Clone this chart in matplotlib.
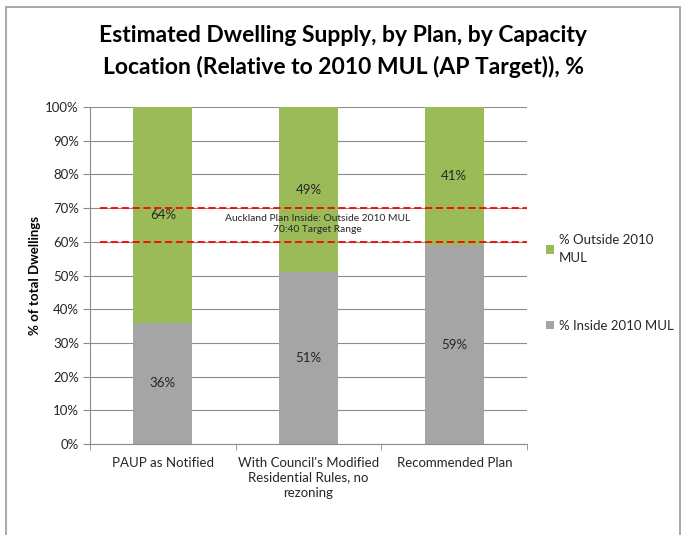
import matplotlib.pyplot as plt
from matplotlib.patches import Rectangle
from matplotlib.ticker import FuncFormatter, MultipleLocator

plans = ["PAUP as Notified",
         "With Council's Modified\nResidential Rules, no\nrezoning",
         "Recommended Plan"]
inside = [36, 51, 59]
outside = [64, 49, 41]
target_lo, target_hi = 60, 70

green = '#9BBB59'
grey = '#A5A5A5'
txt = '#262626'

plt.rcParams['font.family'] = ['Lato', 'DejaVu Sans']

fig = plt.figure(figsize=(6.82, 5.35), dpi=100)
ax = fig.add_axes([0.132, 0.170, 0.641, 0.630])

# chart frame
fig.patches.append(Rectangle((6 / 682, -0.01), 674 / 682, 1 - 7 / 535 + 0.01,
                             transform=fig.transFigure, fill=False,
                             edgecolor='#9a9a9a', lw=1.2, zorder=0))

x = range(len(plans))
w = 0.405
b1 = ax.bar(x, inside, w, color=grey, label='% Inside 2010 MUL', zorder=2)
b2 = ax.bar(x, outside, w, bottom=inside, color=green,
            label='% Outside 2010\nMUL', zorder=2)

for i in x:
    ax.text(i, inside[i] / 2, '%d%%' % inside[i], ha='center', va='center',
            fontsize=9.5, color=txt, zorder=4)
    ax.text(i, inside[i] + outside[i] / 2, '%d%%' % outside[i], ha='center',
            va='center', fontsize=9.5, color=txt, zorder=4)

# target range lines
for v in (target_lo, target_hi):
    ax.plot([-0.43, 2.5], [v, v], color='#FF0000', lw=1.3, ls=(0, (4, 2)),
            zorder=3, clip_on=False)
ax.text(1.06, 65.2, 'Auckland Plan Inside: Outside 2010 MUL\n70:40 Target Range',
        ha='center', va='center', fontsize=7.4, color=txt, zorder=4,
        linespacing=1.25)

ax.set_xlim(-0.5, 2.5)
ax.set_ylim(0, 100)
ax.yaxis.set_major_locator(MultipleLocator(10))
ax.yaxis.set_major_formatter(FuncFormatter(lambda v, p: '%d%%' % v))
ax.grid(axis='y', color='#8c8c8c', lw=0.8, zorder=0)
ax.set_axisbelow(True)

ax.set_xticks(list(x))
ax.set_xticklabels(plans, fontsize=9.5, color=txt, va='top', linespacing=1.3)
ax.set_xticks([-0.5, 0.5, 1.5, 2.5], minor=True)
ax.tick_params(axis='x', which='major', length=0, pad=9)
ax.tick_params(axis='x', which='minor', length=4, color='#8c8c8c')
ax.tick_params(axis='y', length=5, color='#8c8c8c', labelsize=9.5,
               labelcolor=txt, pad=3)

for s in ('top', 'right'):
    ax.spines[s].set_visible(False)
ax.spines['left'].set_color('#8c8c8c')
ax.spines['bottom'].set_color('#8c8c8c')

ax.set_ylabel('% of total Dwellings', fontsize=9.5, fontweight='bold',
              color='black', labelpad=3)

fig.text(0.503, 0.904,
         'Estimated Dwelling Supply, by Plan, by Capacity\n'
         'Location (Relative to 2010 MUL (AP Target)), %',
         ha='center', va='center', fontsize=16.5, fontweight='bold',
         color='black', linespacing=1.55)

leg = ax.legend(handles=[b2, b1], loc='center left',
                bbox_to_anchor=(1.015, 0.478), frameon=False, fontsize=9.5,
                handlelength=0.6, handleheight=0.6, handletextpad=0.4,
                labelspacing=4.2, labelcolor=txt)
for t in leg.get_texts():
    t.set_linespacing(1.6)

fig.savefig('out.png', dpi=100)
